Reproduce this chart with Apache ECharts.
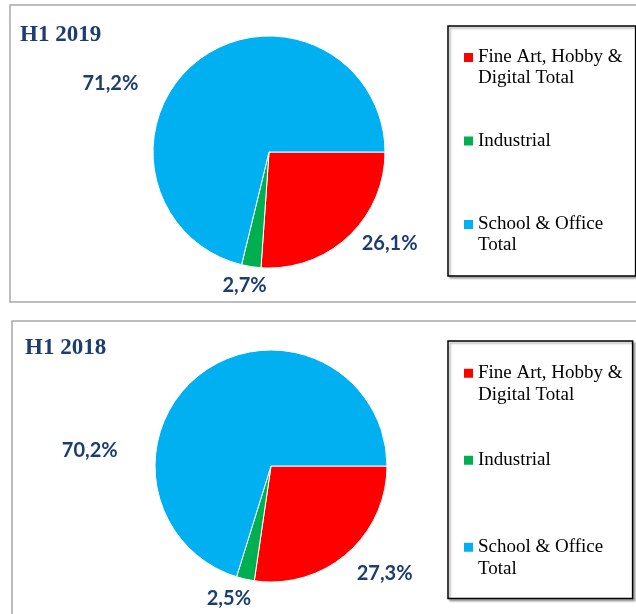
<!DOCTYPE html>
<html>
<head>
<meta charset="utf-8">
<script src="https://cdn.jsdelivr.net/npm/echarts@6/dist/echarts.min.js"></script>
<style>
  html, body { margin: 0; padding: 0; background: #ffffff; }
  #chart { width: 636px; height: 614px; }
</style>
</head>
<body>
<div id="chart"></div>
<script>
// ---- data ----
const categories = ['Fine Art, Hobby & Digital Total', 'Industrial', 'School & Office Total'];
const legendLabels = ['Fine Art, Hobby &\nDigital Total', 'Industrial', 'School & Office\nTotal'];
const panelTitles = ['H1 2019', 'H1 2018'];
const shares2019 = [26.1, 2.7, 71.2];
const shares2018 = [27.3, 2.5, 70.2];

// ---- styling / layout ----
const sliceColors = ['#FF0000', '#00B050', '#00B0F0'];
const navy = '#1B3D72';
// label nudges relative to the library's outside label placement
const labelNudge = [
  [[8.6, 6.5], [20.5, 19.4], [-54, 22.5]],
  [[4.8, 19.5], [10.7, 19.9], [-79.5, 78.1]]
];

const fmtPct = p => p.value.toFixed(1).replace('.', ',') + '%';

function pieSeries(values, center, idx) {
  return {
    type: 'pie',
    center: center,
    radius: 116,
    startAngle: 0,
    clockwise: true,
    avoidLabelOverlap: false,
    animation: false,
    data: categories.map((n, i) => ({ name: n, value: values[i] })),
    itemStyle: { borderColor: '#ffffff', borderWidth: 1 },
    label: {
      show: true,
      position: 'outside',
      formatter: fmtPct,
      fontFamily: 'Lato',
      fontWeight: 'bold',
      fontSize: 20,
      color: navy
    },
    labelLine: { show: false, length: 0, length2: 0 },
    labelLayout: p => ({ dx: labelNudge[idx][p.dataIndex][0], dy: labelNudge[idx][p.dataIndex][1] }),
    emphasis: { disabled: true }
  };
}

// multi-line entries get a blank leading line so the marker sits on the first text line
const legendText = name => {
  const t = legendLabels[categories.indexOf(name)];
  return t.indexOf('\n') >= 0 ? ' \n' + t : t;
};

function legendFor(top, gap, lh, padBottom, padRight) {
  return {
    orient: 'vertical',
    left: 448,
    top: top,
    padding: [0, padRight, padBottom, 16],
    itemGap: gap,
    itemWidth: 9,
    itemHeight: 9,
    icon: 'rect',
    selectedMode: false,
    itemStyle: { borderWidth: 0, borderColor: 'rgba(0,0,0,0)' },
    borderColor: '#000000',
    borderWidth: 1.5,
    shadowColor: 'rgba(0,0,0,0.3)',
    shadowBlur: 2,
    shadowOffsetX: 2,
    shadowOffsetY: 2,
    backgroundColor: '#ffffff',
    textStyle: { fontFamily: 'Liberation Serif', fontSize: 19, color: '#000000', lineHeight: lh },
    formatter: legendText,
    data: categories.slice()
  };
}

const chart = echarts.init(document.getElementById('chart'), null, { renderer: 'canvas' });
chart.setOption({
  animation: false,
  color: sliceColors,
  graphic: [
    { type: 'rect', z: -10, shape: { x: 10, y: 5, width: 640, height: 297 },
      style: { fill: 'none', stroke: '#a8a8a8', lineWidth: 1.5 } },
    { type: 'rect', z: -10, shape: { x: 12, y: 321, width: 640, height: 300 },
      style: { fill: 'none', stroke: '#a8a8a8', lineWidth: 1.5 } }
  ],
  title: [
    { text: panelTitles[0], left: 20, top: 24, padding: 0,
      textStyle: { fontFamily: 'Liberation Serif', fontWeight: 'bold', fontSize: 23, color: navy } },
    { text: panelTitles[1], left: 25, top: 337, padding: 0,
      textStyle: { fontFamily: 'Liberation Serif', fontWeight: 'bold', fontSize: 23, color: navy } }
  ],
  legend: [
    legendFor(26, 41.5, 21, 20, 13),
    legendFor(341, 44, 21.5, 19, 10)
  ],
  series: [
    pieSeries(shares2019, [269, 152], 0),
    pieSeries(shares2018, [271, 466], 1)
  ]
});
</script>
</body>
</html>
